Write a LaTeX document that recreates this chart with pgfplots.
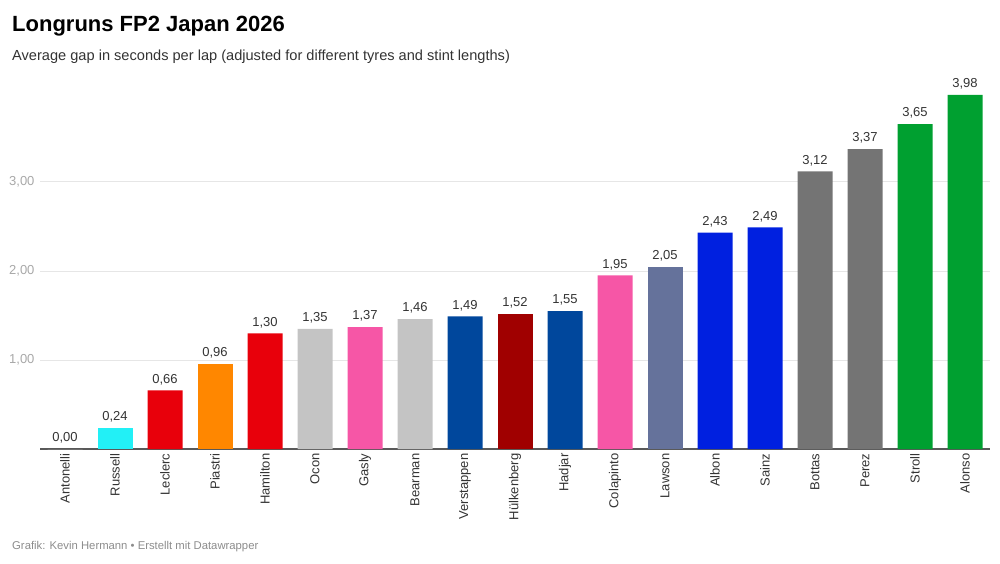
\documentclass[border=0pt]{standalone}
\usepackage{fontspec}
\setmainfont{Liberation Sans}
\usepackage{pgfplots}
\pgfplotsset{compat=1.18}
\definecolor{cRus}{HTML}{22F0F6}
\definecolor{cFer}{HTML}{E8000B}
\definecolor{cMcl}{HTML}{FF8700}
\definecolor{cHaas}{HTML}{C4C4C4}
\definecolor{cAlp}{HTML}{F656A6}
\definecolor{cRb}{HTML}{00479C}
\definecolor{cAudi}{HTML}{A00000}
\definecolor{cRacing}{HTML}{65729B}
\definecolor{cWil}{HTML}{0020E0}
\definecolor{cCad}{HTML}{747474}
\definecolor{cAst}{HTML}{00A030}
\definecolor{gridc}{HTML}{E6E6E6}
\definecolor{tickc}{HTML}{A8A8A8}
\definecolor{txt}{HTML}{333333}
\definecolor{foot}{HTML}{8C8C8C}
\begin{document}
\begin{tikzpicture}
\useasboundingbox (0pt,0pt) rectangle (1000pt,563pt);
\node[anchor=base west, inner sep=0pt, font=\fontsize{22}{26}\selectfont\bfseries] at (12pt,531pt) {Longruns FP2 Japan 2026};
\node[anchor=base west, inner sep=0pt, font=\fontsize{14.6}{18}\selectfont, text=txt] at (12pt,502pt) {Average gap in seconds per lap (adjusted for different tyres and stint lengths)};
\node[anchor=base west, inner sep=0pt, font=\fontsize{11.3}{14}\selectfont, text=foot] at (12pt,14pt) {Grafik: Kevin Hermann • Erstellt mit Datawrapper};
\begin{axis}[
  at={(40pt,114pt)}, anchor=south west,
  scale only axis, width=950pt, height=356pt,
  xmin=-0.5, xmax=18.5, ymin=0, ymax=4,
  ybar, bar width=35pt, bar shift=0pt,
  axis x line*=bottom, axis y line*=left,
  y axis line style={draw=none},
  x axis line style={draw=black!65, line width=1.6pt, -},
  major tick length=0pt,
  ytick={1,2,3},
  ymajorgrids, grid style={gridc, line width=1pt},
  yticklabel style={text=tickc, font=\fontsize{13}{15}\selectfont, xshift=-2pt},
  /pgf/number format/assume math mode=true,
  /pgf/number format/.cd, use comma, fixed, fixed zerofill, precision=2,
  /pgfplots/.cd,
  xtick={0,...,18},
  xticklabels={Antonelli,Russell,Leclerc,Piastri,Hamilton,Ocon,Gasly,Bearman,Verstappen,Hülkenberg,Hadjar,Colapinto,Lawson,Albon,Sainz,Bottas,Perez,Stroll,Alonso},
  xticklabel style={rotate=90, anchor=east, text=txt, font=\fontsize{13}{15}\selectfont, yshift=0pt, xshift=-1pt},
  nodes near coords,
  nodes near coords style={text=txt, font=\fontsize{13}{15}\selectfont, yshift=2pt},
  every axis plot/.append style={draw=none},
  clip=false,
]
\addplot[fill=white] coordinates {(0,0.00)};
\addplot[fill=cRus] coordinates {(1,0.24)};
\addplot[fill=cFer] coordinates {(2,0.66) (4,1.30)};
\addplot[fill=cMcl] coordinates {(3,0.96)};
\addplot[fill=cHaas] coordinates {(5,1.35) (7,1.46)};
\addplot[fill=cAlp] coordinates {(6,1.37) (11,1.95)};
\addplot[fill=cRb] coordinates {(8,1.49) (10,1.55)};
\addplot[fill=cAudi] coordinates {(9,1.52)};
\addplot[fill=cRacing] coordinates {(12,2.05)};
\addplot[fill=cWil] coordinates {(13,2.43) (14,2.49)};
\addplot[fill=cCad] coordinates {(15,3.12) (16,3.37)};
\addplot[fill=cAst] coordinates {(17,3.65) (18,3.98)};
\end{axis}
\end{tikzpicture}
\end{document}
